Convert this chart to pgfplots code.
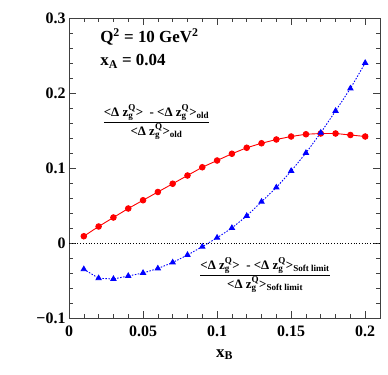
\documentclass[border=0pt]{standalone}
\usepackage{pgfplots}
\pgfplotsset{compat=1.18}
\usepackage{fontspec}
\setmainfont{Liberation Serif}

\newcommand{\zgQ}{$\mathbf{z}_{\mathbf{g}}^{\mathbf{Q}}$}
\newcommand{\avg}{<Δ~\zgQ>}

\begin{document}
\begin{tikzpicture}
\useasboundingbox (0,0) rectangle (388bp,375bp);
\begin{axis}[at={(69bp,57bp)}, anchor=south west, scale only axis,
  width=311bp, height=300bp,
  xmin=0, xmax=0.21, ymin=-0.1, ymax=0.3,
  xtick={0,0.05,0.1,0.15,0.2}, xticklabels={0,0.05,0.1,0.15,0.2},
  ytick={-0.1,0,0.1,0.2,0.3}, yticklabels={−0.1,0,0.1,0.2,0.3},
  minor x tick num=4, minor y tick num=4,
  tick align=inside, major tick length=7bp, minor tick length=4bp,
  axis line style={black!75, line width=0.8pt},
  tick style={black!75, line width=0.6pt},
  xticklabel style={font=\fontsize{16}{16}\selectfont\bfseries, yshift=-4bp},
  yticklabel style={font=\fontsize{16}{16}\selectfont\bfseries},
  xlabel={x\textsubscript{B}},
  xlabel style={font=\fontsize{17}{17}\selectfont\bfseries,
    at={(axis description cs:0.5,-0.13)}, anchor=base},
  clip=false]
\addplot[black, dotted, line width=0.8pt] coordinates {(0,0) (0.21,0)};
\addplot[red, line width=0.9pt, mark=*, mark size=2.8bp] coordinates {
  (0.01,0.009) (0.02,0.022) (0.03,0.034) (0.04,0.046) (0.05,0.057)
  (0.06,0.068) (0.07,0.079) (0.08,0.090) (0.09,0.101) (0.10,0.110)
  (0.11,0.119) (0.12,0.127) (0.13,0.133) (0.14,0.138) (0.15,0.142)
  (0.16,0.145) (0.17,0.146) (0.18,0.146) (0.19,0.144) (0.20,0.142)};
\addplot[blue, line width=0.9pt, dash pattern=on 1.5bp off 1.5bp,
  mark=triangle*, mark size=3bp, mark options={solid}] coordinates {
  (0.01,-0.035) (0.02,-0.047) (0.03,-0.048) (0.04,-0.044) (0.05,-0.040)
  (0.06,-0.034) (0.07,-0.026) (0.08,-0.016) (0.09,-0.005) (0.10,0.007)
  (0.11,0.020) (0.12,0.036) (0.13,0.055) (0.14,0.074) (0.15,0.096)
  (0.16,0.120) (0.17,0.147) (0.18,0.176) (0.19,0.206) (0.20,0.240)};
\node[anchor=base west, inner sep=0pt, font=\fontsize{17}{17}\selectfont\bfseries]
  at (axis cs:0.021,0.267) {Q\textsuperscript{2} = 10 GeV\textsuperscript{2}};
\node[anchor=base west, inner sep=0pt, font=\fontsize{17}{17}\selectfont\bfseries]
  at (axis cs:0.021,0.236) {x\textsubscript{A} = 0.04};
\node[inner sep=0pt, font=\fontsize{13}{13}\selectfont\bfseries]
  at (axis cs:0.0591,0.1613)
  {$\displaystyle\frac{\mbox{\avg~ - \avg\textsubscript{old}}}{\mbox{\avg\textsubscript{old}}}$};
\node[inner sep=0pt, font=\fontsize{13}{13}\selectfont\bfseries]
  at (axis cs:0.1324,-0.0427)
  {$\displaystyle\frac{\mbox{\avg~ - \avg\textsubscript{Soft limit}}}{\mbox{\avg\textsubscript{Soft limit}}}$};
\end{axis}
\end{tikzpicture}
\end{document}
